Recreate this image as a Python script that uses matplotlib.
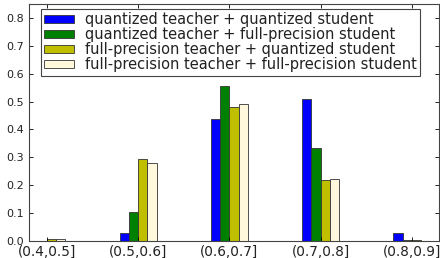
import matplotlib
matplotlib.use("Agg")
import matplotlib.pyplot as plt
import numpy as np

categories = ["(0.4,0.5]", "(0.5,0.6]", "(0.6,0.7]", "(0.7,0.8]", "(0.8,0.9]"]
series_names = [
    "quantized teacher + quantized student",
    "quantized teacher + full-precision student",
    "full-precision teacher + quantized student",
    "full-precision teacher + full-precision student",
]
q_t_q_s = [0.0, 0.027, 0.437, 0.508, 0.030]
q_t_fp_s = [0.0, 0.105, 0.557, 0.335, 0.002]
fp_t_q_s = [0.008, 0.293, 0.481, 0.219, 0.002]
fp_t_fp_s = [0.008, 0.278, 0.490, 0.222, 0.0]
series = [q_t_q_s, q_t_fp_s, fp_t_q_s, fp_t_fp_s]
colors = ["#0000ff", "#008000", "#bfbf00", "#fff8dc"]

fig = plt.figure(figsize=(4.4, 2.58), dpi=100)
ax = fig.add_axes([29/440, 17/258, 410/440, 237/258])

x = np.arange(len(categories))
w = 0.1
for i, (vals, c, name) in enumerate(zip(series, colors, series_names)):
    ax.bar(x + (i - 2) * w, vals, width=w, align="edge", color=c,
           edgecolor="#333333", linewidth=0.6, label=name)

ax.set_xlim(-0.2, 4.3)
ax.set_ylim(0, 0.85)
ax.set_xticks(x)
ax.set_xticklabels(categories, fontsize=9.8, color="#222222")
yt = np.arange(0, 0.81, 0.1)
ax.set_yticks(yt)
ax.set_yticklabels([f"{v:.1f}" for v in yt], fontsize=8, color="#222222")
ax.tick_params(direction="in", top=True, right=True, length=3, width=0.6)
ax.tick_params(axis="y", pad=3.5)
ax.tick_params(axis="x", pad=2.5)
for s in ax.spines.values():
    s.set_linewidth(0.8)
    s.set_color("#444444")

leg = ax.legend(loc="upper left", bbox_to_anchor=(0.029, 0.978), fontsize=10.5,
                fancybox=False, framealpha=1, edgecolor="#444444",
                handlelength=2.05, handleheight=0.5, borderpad=0.22,
                labelspacing=0.0, handletextpad=0.75, borderaxespad=0)
for t in leg.get_texts():
    t.set_color("#222222")
leg.get_frame().set_linewidth(0.8)

fig.savefig("out.png", dpi=100)
